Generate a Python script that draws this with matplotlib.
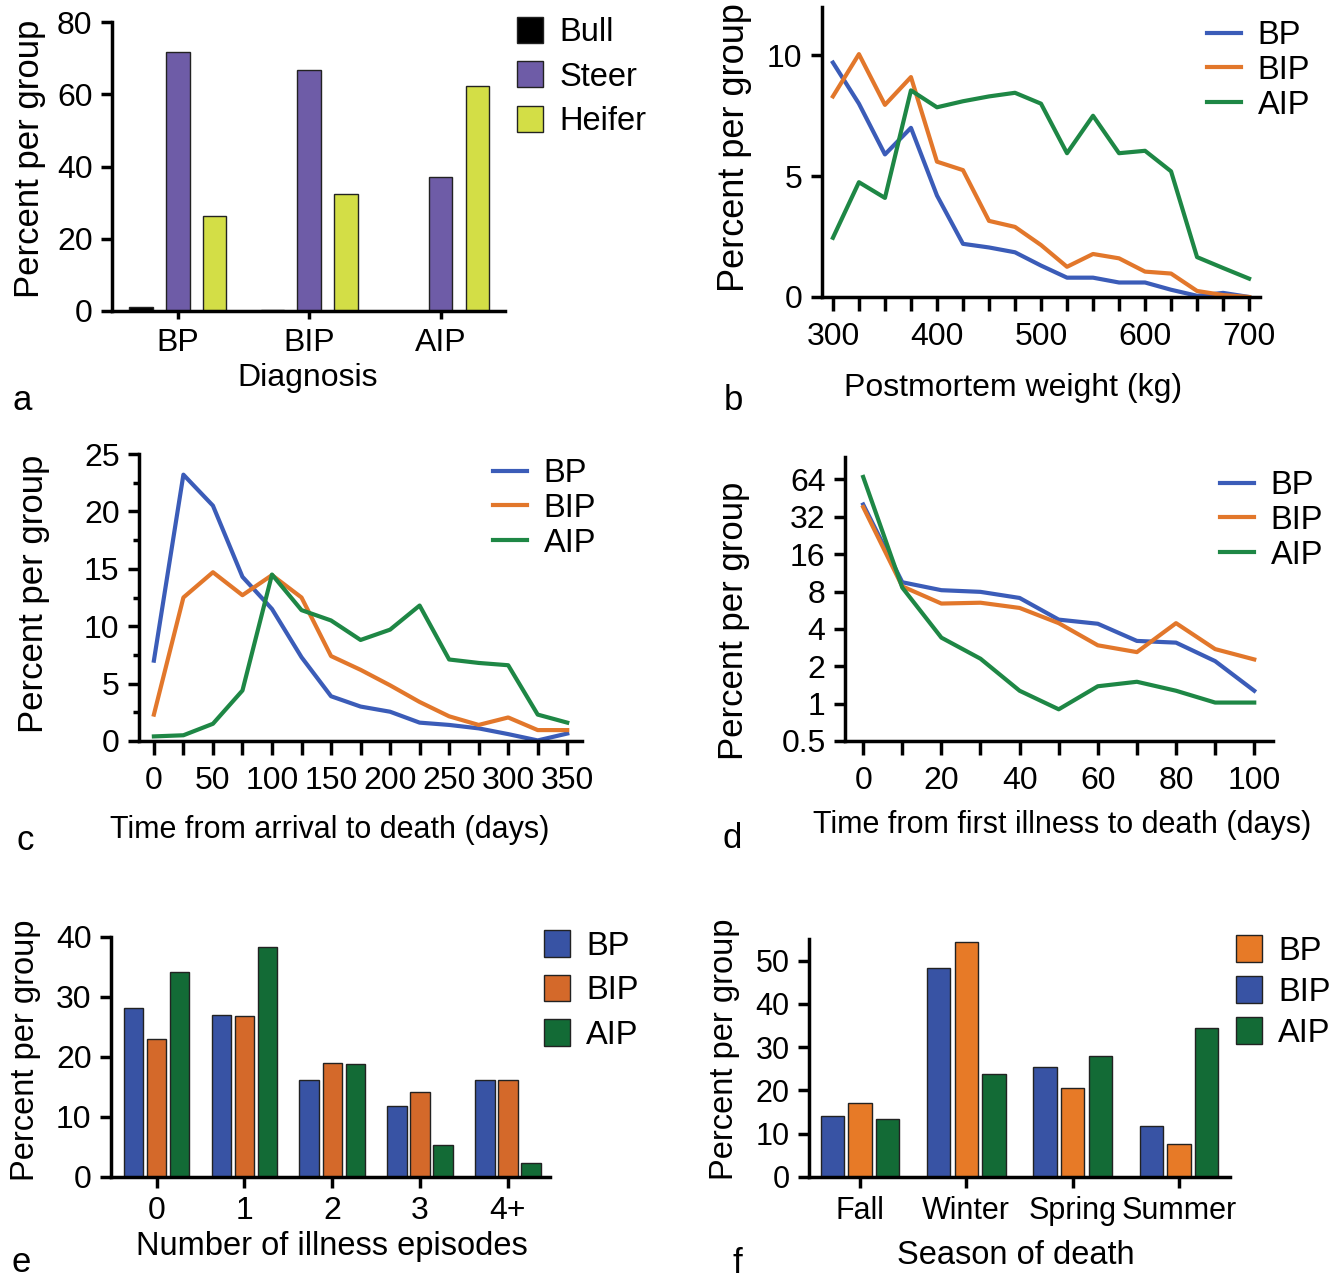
import numpy as np
import matplotlib
matplotlib.use("Agg")
import matplotlib.pyplot as plt
from matplotlib.ticker import FixedLocator, FixedFormatter, MultipleLocator

plt.rcParams['font.family'] = ['Liberation Sans', 'DejaVu Sans']
plt.rcParams['font.size'] = 23

# ---- data ----
# a: sex by diagnosis
diag = ["BP", "BIP", "AIP"]
bull = [1.0, 0.4, 0.0]
steer = [71.7, 66.6, 37.1]
heifer = [26.3, 32.4, 62.2]

# b: postmortem weight
weight = [300, 325, 350, 375, 400, 425, 450, 475, 500, 525, 550, 575, 600, 625, 650, 675, 700]
b_bp = [9.7, 8.0, 5.9, 7.0, 4.2, 2.2, 2.05, 1.85, 1.3, 0.8, 0.8, 0.6, 0.6, 0.3, 0.05, 0.17, 0.0]
b_bip = [8.3, 10.05, 7.95, 9.1, 5.6, 5.25, 3.15, 2.9, 2.15, 1.25, 1.78, 1.6, 1.05, 0.97, 0.25, 0.08, 0.0]
b_aip = [2.45, 4.75, 4.1, 8.55, 7.85, 8.1, 8.3, 8.45, 8.0, 5.95, 7.5, 5.95, 6.05, 5.2, 1.65, 1.2, 0.76]

# c: time from arrival to death
arrival = [0, 25, 50, 75, 100, 125, 150, 175, 200, 225, 250, 275, 300, 325, 350]
c_bp = [7.0, 23.2, 20.5, 14.3, 11.5, 7.3, 3.9, 3.0, 2.55, 1.6, 1.4, 1.1, 0.6, 0.05, 0.65]
c_bip = [2.3, 12.5, 14.7, 12.7, 14.45, 12.5, 7.4, 6.2, 4.85, 3.4, 2.15, 1.4, 2.05, 0.95, 0.95]
c_aip = [0.4, 0.5, 1.5, 4.4, 14.5, 11.4, 10.5, 8.8, 9.7, 11.8, 7.1, 6.8, 6.6, 2.3, 1.6]

# d: time from first illness to death (log2 y)
illness = [0, 10, 20, 30, 40, 50, 60, 70, 80, 90, 100]
d_bp = [40.2, 9.5, 8.2, 7.95, 7.1, 4.75, 4.4, 3.2, 3.1, 2.2, 1.27]
d_bip = [38.3, 8.8, 6.4, 6.5, 5.9, 4.45, 2.95, 2.6, 4.45, 2.75, 2.27]
d_aip = [67, 8.6, 3.4, 2.3, 1.27, 0.9, 1.38, 1.5, 1.27, 1.02, 1.02]

# e: number of illness episodes
episodes = ["0", "1", "2", "3", "4+"]
e_bp = [28.1, 27.0, 16.1, 11.9, 16.2]
e_bip = [23.0, 26.9, 19.0, 14.2, 16.1]
e_aip = [34.2, 38.3, 18.9, 5.3, 2.4]

# f: season of death
seasons = ["Fall", "Winter", "Spring", "Summer"]
f_blue = [14.0, 48.2, 25.5, 11.8]
f_orange = [17.1, 54.2, 20.6, 7.7]
f_green = [13.3, 23.9, 27.9, 34.5]

# ---- colours ----
c_bull, c_steer, c_heifer = '#000000', '#6e5ca7', '#d3de46'
l_blue, l_orange, l_green = '#3b5cb8', '#e2772b', '#1e8745'
e_blue, e_orange, e_green = '#3853a4', '#d4692a', '#136b36'
f_orng = '#e77a27'

W, H = 1338, 1279
fig = plt.figure(figsize=(W / 100, H / 100), dpi=100)


def add_ax(l, t, r, b, ticksize=23):
    ax = fig.add_axes([l / W, 1 - b / H, (r - l) / W, (b - t) / H])
    for s in ['top', 'right']:
        ax.spines[s].set_visible(False)
    for s in ['left', 'bottom']:
        ax.spines[s].set_linewidth(2.5)
    ax.tick_params(width=2.5, length=8, direction='out', pad=6, labelsize=ticksize)
    ax.tick_params(which='minor', width=2.5, length=4)
    ax.patch.set_visible(False)
    return ax


def place_labels(ax, box, xl, yl, xpos, ypos, xs=23, ys=25):
    l, t, r, b = box
    ax.set_xlabel(xl, fontsize=xs, va='center')
    ax.set_ylabel(yl, fontsize=ys, va='center')
    ax.xaxis.set_label_coords((xpos[0] - l) / (r - l), (b - xpos[1]) / (b - t))
    ax.yaxis.set_label_coords((ypos[0] - l) / (r - l), (b - ypos[1]) / (b - t))


def legend_at(ax, x, y, spacing, hl, hh, order=None):
    handles, labels = ax.get_legend_handles_labels()
    if order:
        handles = [handles[i] for i in order]
        labels = [labels[i] for i in order]
    ax.legend(handles, labels, loc='upper left', bbox_to_anchor=(x / W, 1 - y / H),
              bbox_transform=fig.transFigure, frameon=False, borderpad=0,
              borderaxespad=0, labelspacing=spacing, handlelength=hl,
              handleheight=hh, handletextpad=0.5, fontsize=23.5)


def letter(txt, x, y):
    fig.text(x / W, 1 - y / H, txt, fontsize=25, ha='center', va='baseline')


# ---- a ----
box = (112, 22, 505, 311)
ax = add_ax(*box)
xa = np.arange(len(diag))
bw = 0.18
ax.bar(xa - 0.28, bull, bw, color=c_bull, edgecolor='#222222', lw=1, label='Bull')
ax.bar(xa, steer, bw, color=c_steer, edgecolor='#222222', lw=1, label='Steer')
ax.bar(xa + 0.28, heifer, bw, color=c_heifer, edgecolor='#222222', lw=1, label='Heifer')
ax.set_xlim(-0.5, 2.49)
ax.set_ylim(0, 80)
ax.set_xticks(xa)
ax.set_xticklabels(diag)
ax.set_yticks([0, 20, 40, 60, 80])
ax.tick_params(axis='x', length=6)
place_labels(ax, box, 'Diagnosis', 'Percent per group', (308, 378), (30, 159))
legend_at(ax, 517, 17, 0.4, 0.8, 0.85)
letter('a', 22, 410)

# ---- b ----
box = (822, 7, 1260, 297)
ax = add_ax(*box)
ax.plot(weight, b_bp, color=l_blue, lw=3, label='BP')
ax.plot(weight, b_bip, color=l_orange, lw=3, label='BIP')
ax.plot(weight, b_aip, color=l_green, lw=3, label='AIP')
ax.set_xlim(289.5, 710.5)
ax.set_ylim(0, 12)
ax.xaxis.set_major_locator(FixedLocator(weight))
ax.xaxis.set_major_formatter(FixedFormatter([str(w) if w % 100 == 0 else '' for w in weight]))
ax.set_yticks([0, 5, 10])
ax.tick_params(axis='x', length=10, pad=8)
place_labels(ax, box, 'Postmortem weight (kg)', 'Percent per group', (1013, 388), (735, 148), ys=26)
legend_at(ax, 1207, 20, 0.12, 1.05, 0.7)
letter('b', 733, 410)

# ---- c ----
box = (139, 454, 582, 741)
ax = add_ax(*box)
ax.plot(arrival, c_bp, color=l_blue, lw=3, label='BP')
ax.plot(arrival, c_bip, color=l_orange, lw=3, label='BIP')
ax.plot(arrival, c_aip, color=l_green, lw=3, label='AIP')
ax.set_xlim(-12.6, 362.5)
ax.set_ylim(0, 25)
ax.xaxis.set_major_locator(FixedLocator(arrival))
ax.xaxis.set_major_formatter(FixedFormatter([str(d) if d % 50 == 0 else '' for d in arrival]))
ax.set_yticks([0, 5, 10, 15, 20, 25])
ax.yaxis.set_minor_locator(MultipleLocator(2.5))
ax.tick_params(axis='x', length=10, pad=8)
place_labels(ax, box, 'Time from arrival to death (days)', 'Percent per group', (330, 830), (34, 594), xs=22)
legend_at(ax, 493, 458, 0.12, 1.05, 0.7)
letter('c', 25, 850)

# ---- d ----
box = (845, 457, 1273, 741)
ax = add_ax(*box)
ax.plot(illness, d_bp, color=l_blue, lw=3, label='BP')
ax.plot(illness, d_bip, color=l_orange, lw=3, label='BIP')
ax.plot(illness, d_aip, color=l_green, lw=3, label='AIP')
ax.set_yscale('log', base=2)
ax.set_xlim(-4.65, 104.8)
ax.set_ylim(0.5, 97)
yt = [0.5, 1, 2, 4, 8, 16, 32, 64]
ax.yaxis.set_major_locator(FixedLocator(yt))
ax.yaxis.set_major_formatter(FixedFormatter(['0.5', '1', '2', '4', '8', '16', '32', '64']))
ax.yaxis.set_minor_locator(FixedLocator([]))
ax.xaxis.set_major_locator(FixedLocator(illness))
ax.xaxis.set_major_formatter(FixedFormatter([str(d) if d % 20 == 0 else '' for d in illness]))
ax.tick_params(axis='x', length=10, pad=8)
place_labels(ax, box, 'Time from first illness to death (days)', 'Percent per group', (1062, 825), (733, 621), xs=22)
legend_at(ax, 1220, 470, 0.12, 1.05, 0.7)
letter('d', 732, 848)

# ---- e ----
box = (111, 937, 550, 1177)
ax = add_ax(*box)
xe = np.arange(len(episodes))
bw = 0.222
ax.bar(xe - 0.263, e_bp, bw, color=e_blue, edgecolor='#222222', lw=1, label='BP')
ax.bar(xe, e_bip, bw, color=e_orange, edgecolor='#222222', lw=1, label='BIP')
ax.bar(xe + 0.263, e_aip, bw, color=e_green, edgecolor='#222222', lw=1, label='AIP')
ax.set_xlim(-0.52, 4.48)
ax.set_ylim(0, 40)
ax.set_xticks(xe)
ax.set_xticklabels(episodes)
ax.set_yticks([0, 10, 20, 30, 40])
place_labels(ax, box, 'Number of illness episodes', 'Percent per group', (332, 1247), (26, 1050), xs=23.5, ys=23.5)
legend_at(ax, 544, 930, 0.4, 0.8, 0.88)
letter('e', 21, 1272)

# ---- f ----
box = (809, 939, 1230, 1177)
ax = add_ax(*box, ticksize=22)
xf = np.arange(len(seasons))
bw = 0.217
ax.bar(xf - 0.26, f_blue, bw, color=e_blue, edgecolor='#222222', lw=1, label='BIP')
ax.bar(xf, f_orange, bw, color=f_orng, edgecolor='#222222', lw=1, label='BP')
ax.bar(xf + 0.26, f_green, bw, color=e_green, edgecolor='#222222', lw=1, label='AIP')
ax.set_xlim(-0.48, 3.48)
ax.set_ylim(0, 55)
ax.set_xticks(xf)
ax.set_xticklabels(seasons)
ax.set_yticks([0, 10, 20, 30, 40, 50])
place_labels(ax, box, 'Season of death', 'Percent per group', (1016, 1255), (724, 1049), xs=23.5, ys=23.5)
legend_at(ax, 1236, 935, 0.28, 0.8, 0.9, order=[1, 0, 2])
letter('f', 737, 1273)

fig.savefig('out.png', dpi=100)
